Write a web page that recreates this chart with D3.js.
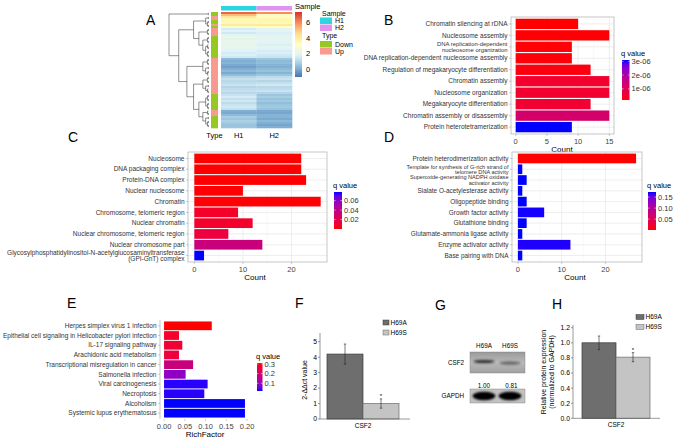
<!DOCTYPE html>
<html>
<head>
<meta charset="utf-8">
<script src="https://d3js.org/d3.v7.min.js"></script>
<style>
  body { margin: 0; background: #fff; }
  svg { display: block; font-family: "Liberation Sans", Arial, Helvetica, sans-serif; }
</style>
</head>
<body>
<script>
// ---------- A: heatmap data ----------
var sampleNames = ["H1", "H2"];
var heatH1 = [6.6, 5.2, 4.3, 3.6, 3.5, 3.4, 4.1, 3.0,
              1.6, 1.8, 1.5, 1.9,
              2.2, 2.0, 2.3, 2.1, 1.9, 2.2, 2.0, 1.8, 1.6, 1.7, 1.5,
              0.3, 0.1, 0.2, 0.0, -0.2, 0.1, 0.3, 0.0, 0.4,
              1.0, 1.3, 1.1, 1.2, 1.4, 1.0, 1.2, 1.3, 1.1,
              1.4, 1.6, 1.3, 1.5, 1.2, 1.4, 1.5, 1.3,
              0.1, 0.0, 0.3,
              0.8, 0.6, 0.9, 0.7, 0.5, 0.6];
var heatH2 = [6.0, 3.0, 3.3, 3.5, 3.6, 3.5, 4.2, 3.2,
              1.9, 2.0, 1.7, 1.8,
              2.0, 1.9, 2.1, 1.8, 1.7, 2.0, 1.8, 1.6, 1.7, 1.5, 1.4,
              0.6, 0.3, 0.4, 0.2, 0.1, 0.3, 0.5, 0.2, 0.6,
              1.2, 1.4, 1.0, 1.3, 1.5, 1.1, 1.2, 1.4, 1.0,
              0.6, 0.8, 0.5, 0.7, 0.4, 0.6, 0.7, 0.5,
              0.0, -0.1, 0.2,
              0.2, 0.0, 0.3, 0.1, -0.1, 0.1];
var rowType = ("DDUUDDUD" + "UUUU" + "DDDDDDDDDDD" + "UUUUUUUUUUUUUUUUUU" +
               "DDDDDDDD" + "UUU" + "DDDDDD").split("");
// row clustering (leaf order = row order)
var dendro = [[0, 1],
  [[[[2, 3], [[4, 5], [6, 7]]],
    [[[8, 9], [10, 11]], [[[12, 13], [14, 15]], [[16, [17, 18]], [[19, 20], [21, 22]]]]]],
   [[[[23, 24], [25, 26]], [[27, 28], [[29, 30], 31]]],
    [[[[32, 33], [34, 35]], [[36, 37], [38, [39, 40]]]],
     [[[[41, 42], [43, 44]], [[45, 46], [47, 48]]],
      [[49, [50, 51]], [[52, 53], [[54, 55], [56, 57]]]]]]]]];
var heatTicks = [0, 2, 4, 6];

// ---------- B: GO biological process ----------
var bpLabels = ["Chromatin silencing at rDNA", "Nucleosome assembly",
  "DNA replication-dependent\nnucleosome organization", "DNA replication-dependent nucleosome assembly",
  "Regulation of megakaryocyte differentiation", "Chromatin assembly", "Nucleosome organization",
  "Megakaryocyte differentiation", "Chromatin assembly or disassembly", "Protein heterotetramerization"];
var bpCount = [10, 15, 9, 9, 12, 15, 15, 12, 15, 9];
var bpQ = [1.8e-7, 2.0e-7, 2.1e-7, 2.2e-7, 2.6e-7, 5.2e-7, 5.2e-7, 5.6e-7, 1.25e-6, 3.1e-6];

// ---------- C: GO cellular component ----------
var ccLabels = ["Nucleosome", "DNA packaging complex", "Protein-DNA complex", "Nuclear nucleosome",
  "Chromatin", "Chromosome, telomeric region", "Nuclear chromatin",
  "Nuclear chromosome, telomeric region", "Nuclear chromosome part",
  "Glycosylphosphatidylinositol-N-acetylglucosaminyltransferase\n(GPI-GnT) complex"];
var ccCount = [22, 22, 23, 10, 26, 9, 12, 7, 14, 2];
var ccQ = [0.0004, 0.0005, 0.0006, 0.0008, 0.001, 0.008, 0.009, 0.014, 0.035, 0.078];

// ---------- D: GO molecular function ----------
var mfLabels = ["Protein heterodimerization activity",
  "Template for synthesis of G-rich strand of\ntelomere DNA activity",
  "Superoxide-generating NADPH oxidase\nactivator activity", "Sialate O-acetylesterase activity",
  "Oligopeptide binding", "Growth factor activity", "Glutathione binding",
  "Glutamate-ammonia ligase activity", "Enzyme activator activity", "Base pairing with DNA"];
var mfCount = [27, 1, 2, 1, 2, 6, 2, 1, 12, 1];
var mfQ = [0.0005, 0.173, 0.173, 0.173, 0.173, 0.172, 0.173, 0.173, 0.171, 0.173];

// ---------- E: KEGG ----------
var keggLabels = ["Herpes simplex virus 1 infection", "Epithelial cell signaling in Helicobacter pylori infection",
  "IL-17 signaling pathway", "Arachidonic acid metabolism", "Transcriptional misregulation in cancer",
  "Salmonella infection", "Viral carcinogenesis", "Necroptosis", "Alcoholism", "Systemic lupus erythematosus"];
var keggRich = [0.115, 0.036, 0.044, 0.036, 0.070, 0.052, 0.105, 0.097, 0.195, 0.195];
var keggQ = [0.31, 0.28, 0.27, 0.26, 0.18, 0.09, 0.025, 0.025, 0.02, 0.02];

// ---------- F/G/H: CSF2 ----------
var groups = ["H69A", "H69S"];
var qpcrMean = [4.2, 1.0];
var qpcrErr = [0.65, 0.3];
var blotRatio = [1.00, 0.81];
var wbMean = [1.0, 0.81];
var wbErr = [0.09, 0.06];

var W = 677, H = 443;
var svg = d3.select("body").append("svg").attr("width", W).attr("height", H);
svg.append("rect").attr("width", W).attr("height", H).attr("fill", "#fff");
var defs = svg.append("defs");

// panel letters
[["A", 146, 25], ["B", 384, 25], ["C", 68, 142], ["D", 384, 142],
 ["E", 67, 308], ["F", 295, 308], ["G", 435, 310], ["H", 552, 309]].forEach(function (p) {
  svg.append("text").attr("x", p[1]).attr("y", p[2]).style("font-size", "14px").text(p[0]);
});

// ================= A =================
(function () {
  var g = svg.append("g");
  var x0 = 221, x1 = 292, y0 = 12, y1 = 128;
  var xs = d3.scaleBand().domain(sampleNames).range([x0, x1]);
  var ys = d3.scaleBand().domain(d3.range(heatH1.length)).range([y0, y1]);
  var heatColor = d3.scaleLinear()
    .domain(d3.range(7).map(function (i) { return -1 + i * 8.4 / 6; }))
    .range(["#4575B4", "#91BFDB", "#E0F3F8", "#FFFFBF", "#FEE090", "#FC8D59", "#D73027"]);
  var cols = [heatH1, heatH2];
  cols.forEach(function (vals, c) {
    g.selectAll(null).data(vals).enter().append("rect")
      .attr("x", xs(sampleNames[c])).attr("width", xs.bandwidth() + 0.3)
      .attr("y", function (d, i) { return ys(i); }).attr("height", ys.bandwidth() + 0.3)
      .attr("fill", function (d) { return heatColor(d); });
  });
  // sample annotation
  var sampleCol = { H1: "#2bd6df", H2: "#de93ef" };
  g.selectAll(null).data(sampleNames).enter().append("rect")
    .attr("x", function (d) { return xs(d); }).attr("width", xs.bandwidth())
    .attr("y", 6).attr("height", 4.5).attr("fill", function (d) { return sampleCol[d]; });
  // type annotation
  var typeCol = { D: "#95c823", U: "#f79a8f" };
  g.selectAll(null).data(rowType).enter().append("rect")
    .attr("x", 211).attr("width", 7)
    .attr("y", function (d, i) { return ys(i); }).attr("height", ys.bandwidth() + 0.3)
    .attr("fill", function (d) { return typeCol[d]; });

  // dendrogram
  var root = d3.hierarchy(dendro, function (d) { return Array.isArray(d) ? d : null; });
  root.eachAfter(function (n) {
    n.py = n.children ? (n.children[0].py + n.children[n.children.length - 1].py) / 2
                      : ys(n.data) + ys.bandwidth() / 2;
  });
  var hx = d3.scalePow().exponent(2.4).domain([0, root.height]).range([208.5, 169]);
  var path = d3.path();
  root.each(function (n) {
    if (!n.children) return;
    var nx = hx(n.height);
    var a = n.children[0], b = n.children[n.children.length - 1];
    path.moveTo(nx, a.py); path.lineTo(nx, b.py);
    n.children.forEach(function (c) { path.moveTo(nx, c.py); path.lineTo(hx(c.height), c.py); });
  });
  g.append("path").attr("d", path.toString()).attr("fill", "none")
    .attr("stroke", "#222").attr("stroke-width", 0.5);

  // column labels
  var lab = g.append("g").style("font-size", "7.5px").attr("text-anchor", "middle");
  lab.append("text").attr("x", 214.5).attr("y", 138).text("Type");
  sampleNames.forEach(function (s) {
    lab.append("text").attr("x", xs(s) + xs.bandwidth() / 2).attr("y", 138).text(s);
  });

  // colour bar
  var gid = "heatGrad";
  var grad = defs.append("linearGradient").attr("id", gid)
    .attr("x1", 0).attr("y1", 1).attr("x2", 0).attr("y2", 0);
  d3.range(21).forEach(function (i) {
    grad.append("stop").attr("offset", i / 20).attr("stop-color", heatColor(-1 + i / 20 * 8.4));
  });
  var cy = d3.scaleLinear().domain([-1, 7.4]).range([77, 12]);
  g.append("rect").attr("x", 295).attr("y", 12).attr("width", 7).attr("height", 65)
    .attr("fill", "url(#" + gid + ")");
  g.append("text").attr("x", 295).attr("y", 9).style("font-size", "7.5px").text("Sample");
  g.selectAll(null).data(heatTicks).enter().append("text")
    .attr("x", 306).attr("y", function (d) { return cy(d) + 2.6; })
    .style("font-size", "7.5px").text(function (d) { return d; });

  // annotation legend
  var lg = g.append("g").style("font-size", "7px");
  lg.append("text").attr("x", 322).attr("y", 15.5).text("Sample");
  sampleNames.forEach(function (s, i) {
    lg.append("rect").attr("x", 320).attr("y", 17.5 + i * 7).attr("width", 12).attr("height", 6.5)
      .attr("fill", sampleCol[s]);
    lg.append("text").attr("x", 335).attr("y", 23 + i * 7).text(s);
  });
  lg.append("text").attr("x", 322).attr("y", 38).text("Type");
  [["D", "Down"], ["U", "Up"]].forEach(function (t, i) {
    lg.append("rect").attr("x", 320).attr("y", 41 + i * 7).attr("width", 12).attr("height", 6.5)
      .attr("fill", typeCol[t[0]]);
    lg.append("text").attr("x", 335).attr("y", 46.5 + i * 7).text(t[1]);
  });
})();

// ================= B-E: enrichment bars =================
function multiLine(sel, label, lh) {
  var lines = label.split("\n");
  lines.forEach(function (l, i) {
    sel.append("tspan").attr("x", sel.attr("x"))
      .attr("dy", i === 0 ? (-(lines.length - 1) / 2 * lh + 2.2) : lh).text(l);
  });
}

function goPanel(o) {
  var g = svg.append("g");
  var vmax = d3.max(o.values);
  var x = d3.scaleLinear().domain([-0.05 * vmax, 1.05 * vmax]).range([o.x0, o.x1]);
  var y = d3.scalePoint().domain(o.labels).range([o.y0, o.y1]).padding(0.6);
  var bw = y.step() * 0.9;
  var qExt = d3.extent(o.q);
  var col = d3.scaleLinear().domain(qExt).range([o.low, o.high]).interpolate(d3.interpolateLab);

  if (o.grid) {
    var minor = o.ticks.slice(0, -1).map(function (t, i) { return (t + o.ticks[i + 1]) / 2; });
    g.selectAll(null).data(minor).enter().append("line")
      .attr("x1", function (d) { return x(d); }).attr("x2", function (d) { return x(d); })
      .attr("y1", o.y0).attr("y2", o.y1).attr("stroke", "#f0f0f0").attr("stroke-width", 0.4);
    g.selectAll(null).data(o.ticks).enter().append("line")
      .attr("x1", function (d) { return x(d); }).attr("x2", function (d) { return x(d); })
      .attr("y1", o.y0).attr("y2", o.y1).attr("stroke", "#e2e2e2").attr("stroke-width", 0.6);
    g.selectAll(null).data(o.labels).enter().append("line")
      .attr("x1", o.x0).attr("x2", o.x1)
      .attr("y1", function (d) { return y(d); }).attr("y2", function (d) { return y(d); })
      .attr("stroke", "#e2e2e2").attr("stroke-width", 0.6);
  }

  g.selectAll(null).data(o.labels).enter().append("rect")
    .attr("x", x(0)).attr("width", function (d, i) { return x(o.values[i]) - x(0); })
    .attr("y", function (d) { return y(d) - bw / 2; }).attr("height", bw)
    .attr("fill", function (d, i) { return col(o.q[i]); });

  if (o.border) {
    g.append("rect").attr("x", o.x0).attr("y", o.y0).attr("width", o.x1 - o.x0).attr("height", o.y1 - o.y0)
      .attr("fill", "none").attr("stroke", "#b8b8b8").attr("stroke-width", 0.8);
  } else {
    g.append("line").attr("x1", o.x0).attr("x2", o.x0).attr("y1", o.y0).attr("y2", o.y1)
      .attr("stroke", "#b8b8b8").attr("stroke-width", 0.8);
  }

  // y axis
  g.selectAll(null).data(o.labels).enter().append("line")
    .attr("x1", o.x0 - 2).attr("x2", o.x0)
    .attr("y1", function (d) { return y(d); }).attr("y2", function (d) { return y(d); })
    .attr("stroke", "#999").attr("stroke-width", 0.5);
  g.selectAll(null).data(o.labels).enter().append("text")
    .attr("x", o.x0 - 3.5).attr("y", function (d) { return y(d); })
    .attr("text-anchor", "end").attr("fill", "#333")
    .style("font-size", function (d) { return (d.indexOf("\n") >= 0 ? o.catSize2 : o.catSize) + "px"; })
    .each(function (d) {
      var fs = d.indexOf("\n") >= 0 ? o.catSize2 : o.catSize;
      multiLine(d3.select(this), d, fs * o.lineH);
    });

  // x axis
  g.selectAll(null).data(o.ticks).enter().append("line")
    .attr("x1", function (d) { return x(d); }).attr("x2", function (d) { return x(d); })
    .attr("y1", o.y1).attr("y2", o.y1 + 2).attr("stroke", "#999").attr("stroke-width", 0.5);
  g.selectAll(null).data(o.ticks).enter().append("text")
    .attr("x", function (d) { return x(d); }).attr("y", o.y1 + 9.5)
    .attr("text-anchor", "middle").style("font-size", "7.5px").attr("fill", "#444")
    .text(o.tickFmt);
  g.append("text").attr("x", o.titleX).attr("y", o.y1 + 17.5).attr("text-anchor", "middle")
    .style("font-size", "8px").text(o.xTitle);

  // q value legend
  var L = o.legend;
  var gid = "grad" + o.id;
  var grad = defs.append("linearGradient").attr("id", gid)
    .attr("x1", 0).attr("y1", 1).attr("x2", 0).attr("y2", 0);
  d3.range(11).forEach(function (i) {
    grad.append("stop").attr("offset", i / 10)
      .attr("stop-color", col(qExt[0] + i / 10 * (qExt[1] - qExt[0])));
  });
  var ly = d3.scaleLinear().domain(qExt).range([L.y1, L.y0]);
  g.append("text").attr("x", L.x - 1).attr("y", L.y0 - 4).style("font-size", "7.5px").text("q value");
  g.append("rect").attr("x", L.x).attr("y", L.y0).attr("width", L.w).attr("height", L.y1 - L.y0)
    .attr("fill", "url(#" + gid + ")");
  L.ticks.forEach(function (t) {
    [[L.x, L.x + 1.6], [L.x + L.w - 1.6, L.x + L.w]].forEach(function (s) {
      g.append("line").attr("x1", s[0]).attr("x2", s[1]).attr("y1", ly(t)).attr("y2", ly(t))
        .attr("stroke", "#fff").attr("stroke-width", 0.5);
    });
    g.append("text").attr("x", L.x + L.w + 2).attr("y", ly(t) + 2.6)
      .style("font-size", "7.5px").attr("fill", "#333").text(L.fmt(t));
  });
}

goPanel({ id: "B", labels: bpLabels, values: bpCount, q: bpQ, x0: 511, x1: 614, y0: 17, y1: 134,
  ticks: [0, 5, 10, 15], tickFmt: function (d) { return d; }, xTitle: "Count", titleX: 562,
  low: "red", high: "blue", grid: true, border: true, catSize: 6.5, catSize2: 5.9, lineH: 0.98,
  legend: { x: 622, y0: 60, y1: 100, w: 7.5, ticks: [1e-6, 2e-6, 3e-6],
    fmt: function (t) { return Math.round(t * 1e6) + "e-06"; } } });

goPanel({ id: "C", labels: ccLabels, values: ccCount, q: ccQ, x0: 188, x1: 327, y0: 152, y1: 262,
  ticks: [0, 10, 20], tickFmt: function (d) { return d; }, xTitle: "Count", titleX: 255,
  low: "red", high: "blue", grid: true, border: true, catSize: 6.5, catSize2: 6.5, lineH: 0.86,
  legend: { x: 334, y0: 192, y1: 229, w: 8, ticks: [0.02, 0.04, 0.06], fmt: d3.format(".2f") } });

goPanel({ id: "D", labels: mfLabels, values: mfCount, q: mfQ, x0: 512, x1: 642, y0: 152, y1: 262,
  ticks: [0, 10, 20], tickFmt: function (d) { return d; }, xTitle: "Count", titleX: 575,
  low: "red", high: "blue", grid: true, border: true, catSize: 6.4, catSize2: 5.6, lineH: 0.98,
  legend: { x: 648, y0: 192, y1: 230, w: 8, ticks: [0.05, 0.10, 0.15], fmt: d3.format(".2f") } });

goPanel({ id: "E", labels: keggLabels, values: keggRich, q: keggQ, x0: 160, x1: 249, y0: 320, y1: 419,
  ticks: [0, 0.05, 0.1, 0.15, 0.2], tickFmt: d3.format(".2f"), xTitle: "RichFactor", titleX: 205,
  low: "blue", high: "red", grid: false, border: false, catSize: 6.5, catSize2: 6.5, lineH: 0.86,
  legend: { x: 257, y0: 363, y1: 391, w: 5.5, ticks: [0.1, 0.2, 0.3], fmt: d3.format(".1f") } });

// ================= F and H: grouped bars =================
var barFill = { H69A: "#6e6e6e", H69S: "#c4c4c4" };
var barStroke = { H69A: "#3a3a3a", H69S: "#6a6a6a" };

function exprPanel(o) {
  var g = svg.append("g");
  var x = d3.scaleBand().domain(groups).range(o.xr);
  var y = d3.scaleLinear().domain(o.yDomain).range([o.yb, o.yt]);
  // bars
  g.selectAll(null).data(groups).enter().append("rect")
    .attr("x", function (d) { return x(d); }).attr("width", x.bandwidth())
    .attr("y", function (d, i) { return y(o.mean[i]); })
    .attr("height", function (d, i) { return y(0) - y(o.mean[i]); })
    .attr("fill", function (d) { return barFill[d]; })
    .attr("stroke", function (d) { return barStroke[d]; }).attr("stroke-width", 0.7);
  // error bars
  groups.forEach(function (d, i) {
    var cx = x(d) + x.bandwidth() / 2;
    var lo = y(o.mean[i] - o.err[i]), hi = y(o.mean[i] + o.err[i]);
    g.append("line").attr("x1", cx).attr("x2", cx).attr("y1", lo).attr("y2", hi)
      .attr("stroke", "#222").attr("stroke-width", 0.6);
    [lo, hi].forEach(function (yy) {
      g.append("line").attr("x1", cx - 1.2).attr("x2", cx + 1.2).attr("y1", yy).attr("y2", yy)
        .attr("stroke", "#222").attr("stroke-width", 0.6);
    });
  });
  // significance
  var sx = x("H69S") + x.bandwidth() / 2;
  g.append("text").attr("x", sx).attr("y", y(o.mean[1] + o.err[1]) - 0.5).attr("text-anchor", "middle")
    .style("font-size", "6px").text("*");
  // axes
  g.append("line").attr("x1", o.axisX).attr("x2", o.axisX).attr("y1", o.axisTop).attr("y2", y(0))
    .attr("stroke", "#555").attr("stroke-width", 0.6);
  g.append("line").attr("x1", o.axisX).attr("x2", o.axisRight).attr("y1", y(0)).attr("y2", y(0))
    .attr("stroke", "#555").attr("stroke-width", 0.6);
  g.selectAll(null).data(o.yTicks).enter().append("line")
    .attr("x1", o.axisX - 2).attr("x2", o.axisX).attr("y1", function (d) { return y(d); })
    .attr("y2", function (d) { return y(d); }).attr("stroke", "#555").attr("stroke-width", 0.6);
  g.selectAll(null).data(o.yTicks).enter().append("text")
    .attr("x", o.axisX - 3).attr("y", function (d) { return y(d) + 2.4; })
    .attr("text-anchor", "end").style("font-size", "6.8px").text(o.fmt);
  g.append("text").attr("x", (o.xr[0] + o.xr[1]) / 2).attr("y", y(0) + 8.5).attr("text-anchor", "middle")
    .style("font-size", "6.5px").text("CSF2");
  // y label
  var yl = g.append("text").attr("text-anchor", "middle").style("font-size", "7px")
    .attr("transform", "translate(" + o.ylabX + "," + o.ylabY + ") rotate(-90)");
  o.ylab.forEach(function (l, i) {
    yl.append("tspan").attr("x", 0).attr("dy", i === 0 ? 0 : 8.2).text(l);
  });
  // legend
  groups.forEach(function (d, i) {
    g.append("rect").attr("x", o.leg[0]).attr("y", o.leg[1] + i * o.leg[2]).attr("width", o.leg[3]).attr("height", 5)
      .attr("fill", barFill[d]).attr("stroke", barStroke[d]).attr("stroke-width", 0.5);
    g.append("text").attr("x", o.leg[0] + o.leg[3] + 1.5).attr("y", o.leg[1] + i * o.leg[2] + 4.8)
      .style("font-size", "6.5px").text(d);
  });
}

exprPanel({ mean: qpcrMean, err: qpcrErr, xr: [327, 399], yDomain: [0, 5], yb: 419, yt: 341.7,
  yTicks: [0, 1, 2, 3, 4, 5], fmt: function (d) { return d; }, axisX: 320, axisTop: 333, axisRight: 410,
  ylab: ["2-\u0394\u0394ct value"], ylabX: 307, ylabY: 380, leg: [383, 320, 10, 6] });

exprPanel({ mean: wbMean, err: wbErr, xr: [582, 650], yDomain: [0, 1.2], yb: 418.3, yt: 327.7,
  yTicks: [0, 0.2, 0.4, 0.6, 0.8, 1.0, 1.2], fmt: d3.format(".1f"), axisX: 573, axisTop: 325, axisRight: 660,
  ylab: ["Relative protein expression", "(normalized to GAPDH)"], ylabX: 546, ylabY: 372,
  leg: [636, 314.5, 10, 8] });

// ================= G: western blot =================
(function () {
  var g = svg.append("g");
  var f = defs.append("filter").attr("id", "blur").attr("x", "-50%").attr("y", "-100%")
    .attr("width", "200%").attr("height", "300%");
  f.append("feGaussianBlur").attr("stdDeviation", 1.3);
  var lanes = d3.scaleBand().domain(groups).range([470, 522]);
  var cx = function (d) { return lanes(d) + lanes.bandwidth() / 2 + 1; };

  var bg = defs.append("linearGradient").attr("id", "blotBg").attr("x1", 0).attr("y1", 0).attr("x2", 0).attr("y2", 1);
  bg.append("stop").attr("offset", 0).attr("stop-color", "#9a9a9a");
  bg.append("stop").attr("offset", 0.5).attr("stop-color", "#b9b9b9");
  bg.append("stop").attr("offset", 1).attr("stop-color", "#a2a2a2");

  g.append("rect").attr("x", 470).attr("y", 352).attr("width", 55).attr("height", 21)
    .attr("fill", "url(#blotBg)").attr("stroke", "#777").attr("stroke-width", 0.4);
  g.selectAll(null).data(groups).enter().append("ellipse")
    .attr("cx", cx).attr("cy", function (d, i) { return 361.5 + i * 1.5; })
    .attr("rx", 10.5).attr("ry", 1.8)
    .attr("fill", "#202020").attr("opacity", function (d, i) { return 0.85 * blotRatio[i] * (i ? 0.75 : 1); })
    .attr("filter", "url(#blur)");

  g.append("rect").attr("x", 470).attr("y", 389).attr("width", 55).attr("height", 14)
    .attr("fill", "#c2c2c2").attr("stroke", "#777").attr("stroke-width", 0.4);
  g.selectAll(null).data(groups).enter().append("ellipse")
    .attr("cx", cx).attr("cy", 396).attr("rx", 11.5).attr("ry", 4.2)
    .attr("fill", "#000").attr("filter", "url(#blur)");

  var t = g.append("g").style("font-size", "6.3px");
  groups.forEach(function (d, i) {
    t.append("text").attr("x", cx(d)).attr("y", 348).attr("text-anchor", "middle").text(d);
    t.append("text").attr("x", cx(d) + i * 1.5).attr("y", 387.5).attr("text-anchor", "middle")
      .text(d3.format(".2f")(blotRatio[i]));
  });
  t.append("text").attr("x", 464).attr("y", 364.5).attr("text-anchor", "end").text("CSF2");
  t.append("text").attr("x", 464).attr("y", 398).attr("text-anchor", "end").text("GAPDH");
})();
</script>
</body>
</html>
